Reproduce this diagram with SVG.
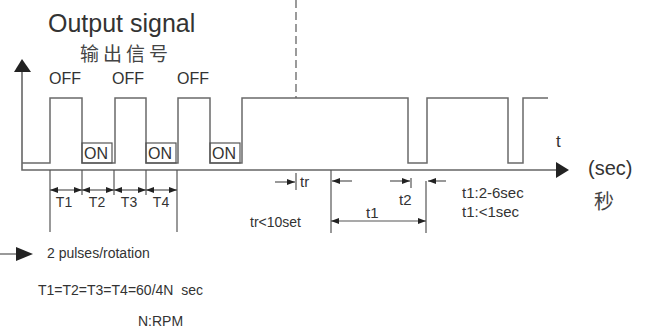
<svg xmlns="http://www.w3.org/2000/svg" width="654" height="329" viewBox="0 0 654 329">
  <defs>
    <style>
      .ln { stroke: #6a6a6a; stroke-width: 1.5; fill: none; }
      .ax { stroke: #666; stroke-width: 1.6; fill: none; }
      .dim { stroke: #555; stroke-width: 1.2; fill: none; }
      .tx { font-family: "Liberation Sans", Arial, sans-serif; fill: #333; }
      .cjk { font-family: "Noto Sans CJK SC", "Liberation Sans", sans-serif; fill: #444; }
      .hd { fill: #222; }
    </style>
    <marker id="ah" viewBox="0 0 8 6" refX="8" refY="3" markerWidth="8" markerHeight="6" markerUnits="userSpaceOnUse" orient="auto-start-reverse">
      <path d="M0,0 L8,3 L0,6 Z" fill="#222"/>
    </marker>
  </defs>
  <rect width="654" height="329" fill="#fff"/>

  <g id="title">
    <text class="tx" x="48" y="32" font-size="25">Output signal</text>
    <text class="cjk" x="80" y="61" font-size="19" letter-spacing="4">输出信号</text>
  </g>

  <g id="axes">
    <path class="ax" d="M22,72 V170 H558"/>
    <polygon class="hd" points="22,59 14,72 31,72"/>
    <polygon class="hd" points="569,170 556,162 556,178"/>
    <text class="tx" x="556" y="147" font-size="17">t</text>
    <text class="tx" x="588" y="175" font-size="20">(sec)</text>
    <text class="cjk" x="594" y="209" font-size="20">秒</text>
  </g>

  <g id="signal">
    <path class="ln" d="M22,163 H50 V98 H82 V163 H115 V98 H146 V163 H178 V98 H210 V163 H242 V98 H408 V163 H427 V98 H508 V163 H523 V98 H548"/>
    <line x1="296" y1="0" x2="296" y2="98" stroke="#666" stroke-width="1.3" stroke-dasharray="8,4"/>
  </g>

  <g id="labels">
    <text class="tx" x="49" y="84" font-size="16">OFF</text>
    <text class="tx" x="112" y="84" font-size="16">OFF</text>
    <text class="tx" x="177" y="84" font-size="16">OFF</text>
    <rect class="dim" x="82" y="143" width="30" height="20"/>
    <rect class="dim" x="146" y="143" width="30" height="20"/>
    <rect class="dim" x="210" y="143" width="30" height="20"/>
    <text class="tx" x="84" y="159" font-size="16">ON</text>
    <text class="tx" x="148" y="159" font-size="16">ON</text>
    <text class="tx" x="212" y="159" font-size="16">ON</text>
  </g>

  <g id="connectors">
    <line class="dim" x1="50" y1="170" x2="50" y2="232"/>
    <line class="dim" x1="82" y1="170" x2="82" y2="195"/>
    <line class="dim" x1="114" y1="170" x2="114" y2="195"/>
    <line class="dim" x1="146" y1="170" x2="146" y2="195"/>
    <line class="dim" x1="177" y1="170" x2="177" y2="232"/>
    <line class="dim" x1="50" y1="190" x2="82" y2="190" marker-start="url(#ah)" marker-end="url(#ah)"/>
    <line class="dim" x1="82" y1="190" x2="114" y2="190" marker-start="url(#ah)" marker-end="url(#ah)"/>
    <line class="dim" x1="114" y1="190" x2="146" y2="190" marker-start="url(#ah)" marker-end="url(#ah)"/>
    <line class="dim" x1="146" y1="190" x2="177" y2="190" marker-start="url(#ah)" marker-end="url(#ah)"/>

    <line class="dim" x1="275" y1="182" x2="295" y2="182" marker-end="url(#ah)"/>
    <line class="dim" x1="296" y1="173" x2="296" y2="190"/>

    <line class="dim" x1="331" y1="170" x2="331" y2="233"/>
    <line class="dim" x1="352" y1="181" x2="332" y2="181" marker-end="url(#ah)"/>
    <line class="dim" x1="390" y1="181" x2="410" y2="181" marker-end="url(#ah)"/>
    <line class="dim" x1="411" y1="178" x2="411" y2="188"/>
    <line class="dim" x1="426" y1="181" x2="426" y2="233"/>
    <line class="dim" x1="446" y1="181" x2="428" y2="181" marker-end="url(#ah)"/>
    <line class="dim" x1="331" y1="221" x2="426" y2="221" marker-start="url(#ah)" marker-end="url(#ah)"/>

    <line class="dim" x1="0" y1="254" x2="20" y2="254"/>
    <polygon class="hd" points="33,254 16,247 16,261"/>
  </g>

  <g id="dim-labels">
    <text class="tx" x="64" y="207" font-size="14" text-anchor="middle">T1</text>
    <text class="tx" x="97" y="207" font-size="14" text-anchor="middle">T2</text>
    <text class="tx" x="129" y="207" font-size="14" text-anchor="middle">T3</text>
    <text class="tx" x="161" y="207" font-size="14" text-anchor="middle">T4</text>
    <text class="tx" x="300" y="187" font-size="15">tr</text>
    <text class="tx" x="250" y="227" font-size="14">tr&lt;10set</text>
    <text class="tx" x="399" y="205" font-size="15">t2</text>
    <text class="tx" x="366" y="218" font-size="15">t1</text>
    <text class="tx" x="462" y="198" font-size="15">t1:2-6sec</text>
    <text class="tx" x="462" y="217" font-size="15">t1:&lt;1sec</text>
  </g>

  <g id="notes">
    <text class="tx" x="47" y="258" font-size="14">2 pulses/rotation</text>
    <text class="tx" x="38" y="295" font-size="14" xml:space="preserve">T1=T2=T3=T4=60/4N  sec</text>
    <text class="tx" x="138" y="326" font-size="14">N:RPM</text>
  </g>
</svg>
